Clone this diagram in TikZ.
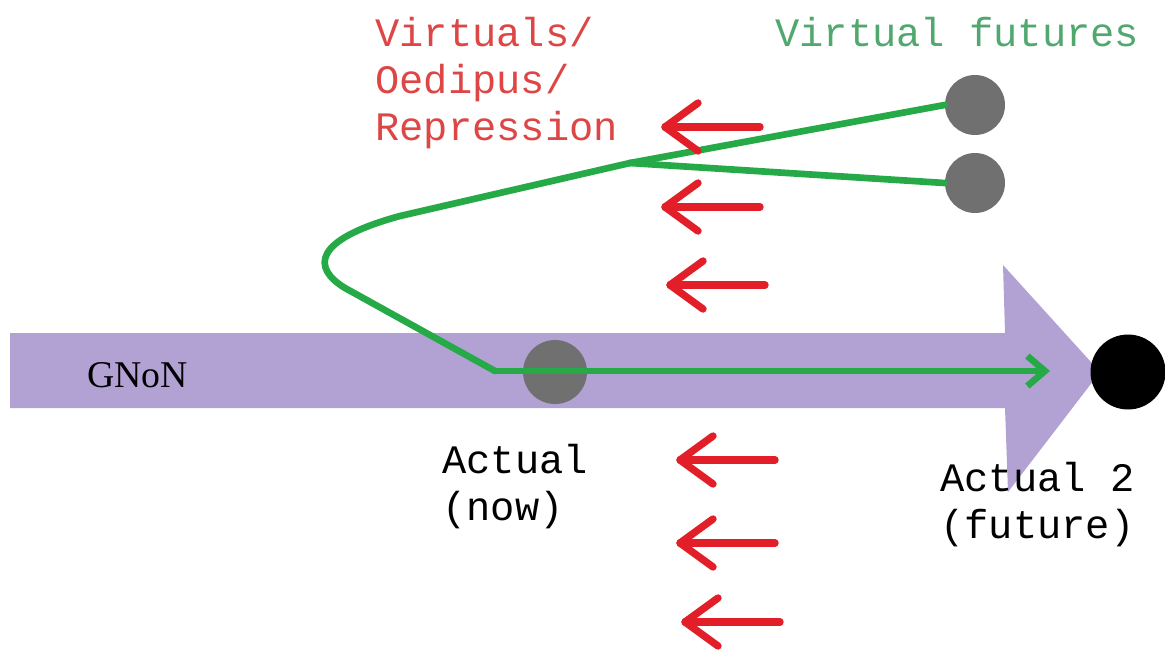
\documentclass[tikz,border=0pt]{standalone}
\usepackage{fontspec}
\setmainfont{Liberation Serif}
\setmonofont{Liberation Mono}
\usetikzlibrary{arrows.meta}
\definecolor{flowlilac}{RGB}{178,162,212}
\definecolor{pathgreen}{RGB}{38,170,72}
\definecolor{pullred}{RGB}{226,30,40}
\definecolor{redtext}{RGB}{222,70,70}
\definecolor{greentext}{RGB}{80,168,110}
\definecolor{dotgrey}{RGB}{112,112,112}

\begin{document}
\begin{tikzpicture}[x=0.02cm,y=-0.02cm,
 lbl/.style={font=\fontsize{23}{26.6}\selectfont\ttfamily,align=left,inner sep=0pt},
 dot/.style={circle,fill=dotgrey,inner sep=0pt,minimum size=#1},
 gline/.style={pathgreen,line width=3.8pt,line join=round,line cap=round},
 pull/.style={pullred,line width=4.2pt,line cap=round,line join=round}]
\useasboundingbox (0,0) rectangle (1165,649);
% broad flow arrow
\fill[flowlilac] (10,333) -- (1005,333) -- (1003,265) -- (1100,372) -- (1008,492) -- (1005,408) -- (10,408) -- cycle;
\node[font=\fontsize{21.5}{26}\selectfont,anchor=west,inner sep=0pt] (gnon) at (87,375) {GNoN};
% points
\node[dot=1.28cm] (now) at (555,372) {};
\node[dot=1.2cm] (vf1) at (975,105) {};
\node[dot=1.2cm] (vf2) at (975,183) {};
\node[circle,fill=black,inner sep=0pt,minimum size=1.5cm] (fut) at (1128,372) {};
\coordinate (start) at (495,371);
\coordinate (fork) at (630,163);
\coordinate (reach) at (1050,371);
% labels
\node[lbl,text=redtext,anchor=north west] (virt) at (375,17) {Virtuals/\\Oedipus/\\Repression};
\node[lbl,text=greentext,anchor=north west] (vfl) at (775,17) {Virtual futures};
\node[lbl,anchor=north west] (act) at (442,444) {Actual\\ (now)};
\node[lbl,anchor=north west] (act2) at (940,462) {Actual 2\\ (future)};
% green paths
\draw[gline] (start) -- (345,288) .. controls (312,268) and (312,240) .. (400,216) -- (fork);
\draw[gline] (fork) -- (vf1.west);
\draw[gline] (fork) -- (vf2.west);
\draw[gline,-{Straight Barb[length=3.5mm,width=6mm]}] (start) -- (reach);
% pull-back arrows
\foreach \x/\y in {665/127,665/207,670/285,680/460,680/543,685/622} {
 \draw[pull] (\x+33,\y-24) -- (\x,\y) -- (\x+33,\y+24);
 \draw[pull] (\x,\y) -- (\x+95,\y);}
\end{tikzpicture}
\end{document}
